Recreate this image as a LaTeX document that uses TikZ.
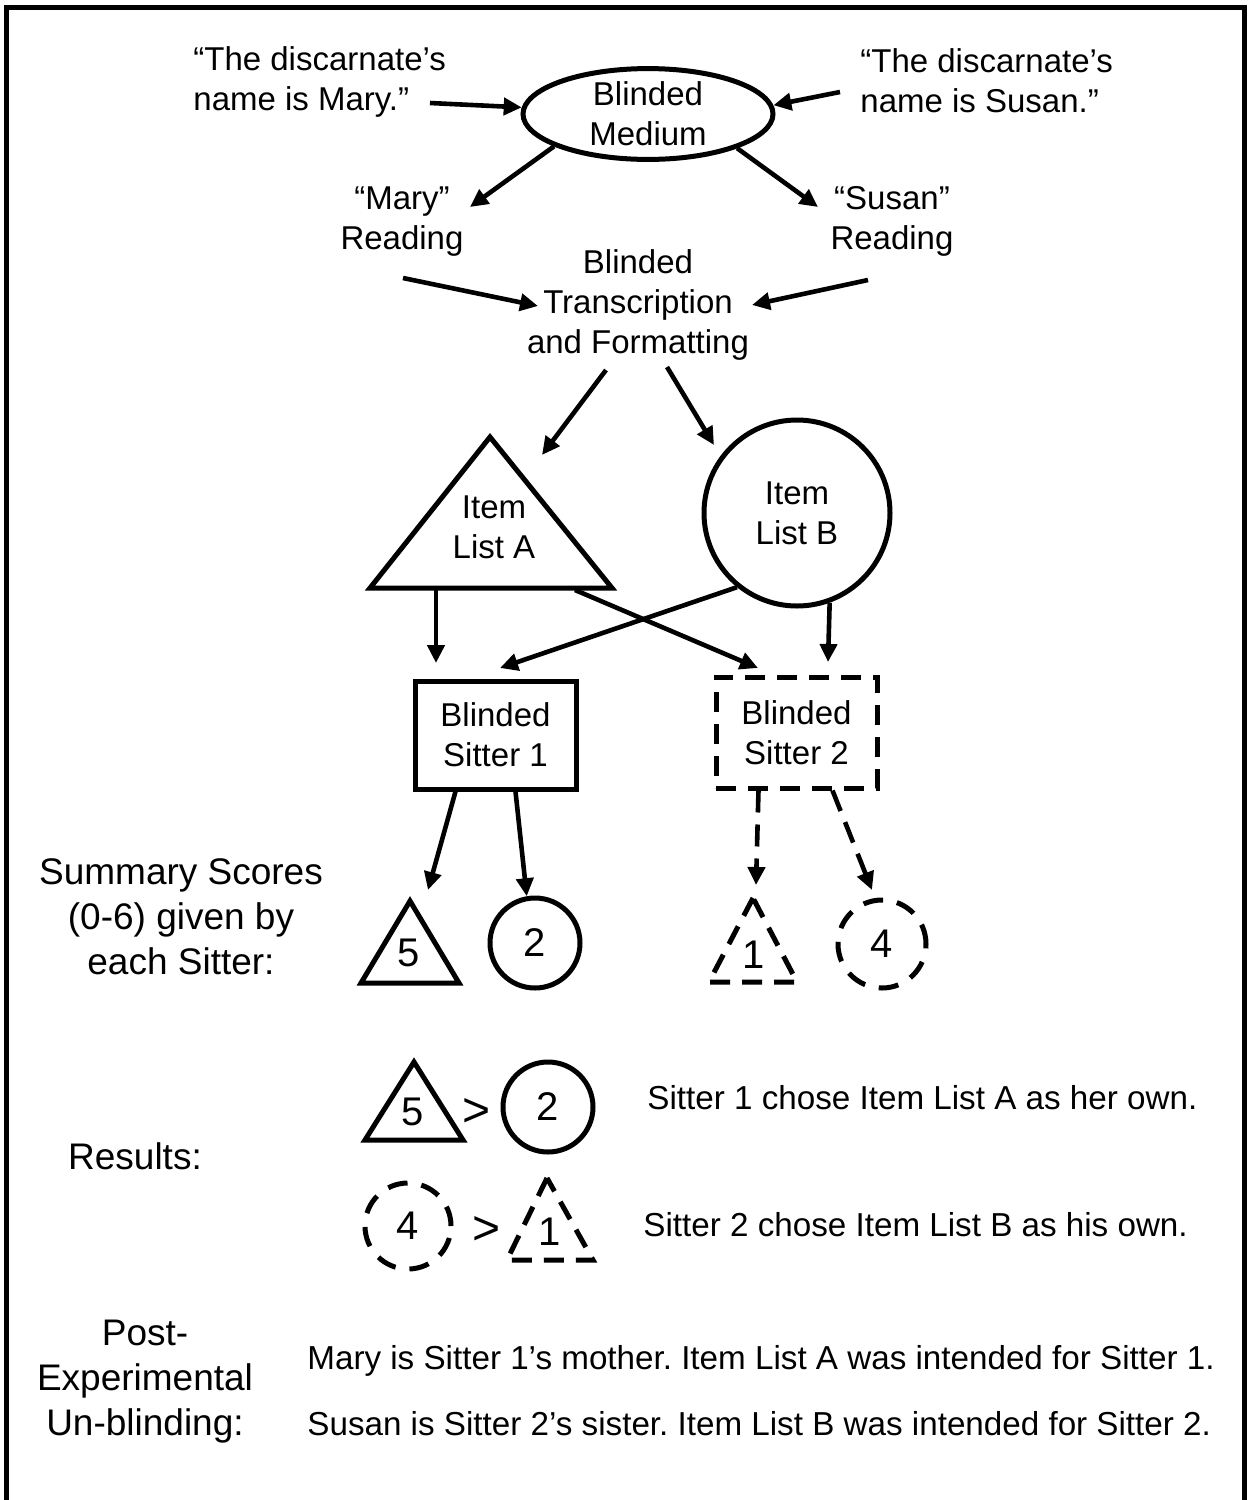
\documentclass[tikz,border=0pt]{standalone}
\usepackage{fontspec}
\setmainfont{Liberation Sans}
\usetikzlibrary{arrows.meta,shapes.geometric,calc}
\frenchspacing
\begin{document}
\begin{tikzpicture}[x=0.5pt,y=-0.5pt,
  lbl/.style={align=center,inner sep=0pt,font=\fontsize{16.5}{20}\selectfont},
  sent/.style={inner sep=0pt,font=\fontsize{16.6}{20}\selectfont},
  big/.style={align=center,inner sep=0pt,font=\fontsize{18.5}{22.5}\selectfont},
  num/.style={inner sep=0pt,font=\fontsize{20}{24}\selectfont},
  gt/.style={inner sep=0pt,font=\fontsize{24}{28}\selectfont},
  arr/.style={line width=2.3pt,-{Triangle[length=9pt,width=8.5pt]}},
  darr/.style={arr,dash pattern=on 11pt off 6pt},
  shp/.style={line width=2.5pt},
  dshp/.style={line width=2.5pt,dash pattern=on 10pt off 6pt},
  dcirc/.style={line width=2.5pt,dash pattern=on 10pt off 7pt},
]
\useasboundingbox (0,0) rectangle (1251,1500);
\draw[line width=2.5pt] (6,7.5) rectangle (1244.5,1504);

% top
\node[lbl,align=left,anchor=west] (maryq) at (193,82) {“The discarnate’s\\name is Mary.”};
\node[lbl,align=left,anchor=west] (susanq) at (860,81) {“The discarnate’s\\name is Susan.”};
\node[lbl,shp,draw,ellipse,minimum width=125pt,minimum height=44pt] (medium) at (648,114) {Blinded\\Medium};
\node[lbl] (maryr) at (402,222) {“Mary”\\Reading};
\node[lbl] (susanr) at (892,221) {“Susan”\\Reading};
\node[lbl] (trans) at (638,305) {Blinded\\Transcription\\and Formatting};

\coordinate (mqe) at (430,103);
\coordinate (sqw) at (840,92);
\coordinate (mrn) at (470,207);
\coordinate (srn) at (818,207);
\coordinate (mrs) at (403,278);
\coordinate (srs) at (868,280);
\coordinate (trw) at (538,306);
\coordinate (tre) at (752,305);
\coordinate (trsl) at (606,370);
\coordinate (trsr) at (667,367);

\draw[arr] (mqe) -- (medium.177);
\draw[arr] (sqw) -- (medium.4);
\draw[arr] (medium.199) -- (mrn);
\draw[arr] (medium.339) -- (srn);
\draw[arr] (mrs) -- (trw);
\draw[arr] (srs) -- (tre);

% item lists
\coordinate (tAa) at (490,437);
\coordinate (tAl) at (370,588);
\coordinate (tAr) at (612,588);
\draw[shp,line join=miter] (tAa) -- (tAl) -- (tAr) -- cycle;
\node[lbl] (listA) at (494,527) {Item\\List A};
\node[lbl,shp,draw,circle,minimum size=93pt] (listB) at (797,513) {Item\\List B};

\coordinate (tAin) at (542,455);
\coordinate (lBin) at (714,445);
\draw[arr] (trsl) -- (tAin);
\draw[arr] (trsr) -- (lBin);

% sitters
\node[lbl,shp,draw,minimum width=80.5pt,minimum height=54pt] (s1) at (495.5,735) {Blinded\\Sitter 1};
\node[lbl,dshp,draw,minimum width=80.5pt,minimum height=55.5pt] (s2) at (796.5,732.5) {Blinded\\Sitter 2};

\coordinate (tAb1) at (436,590);
\coordinate (tAb2) at (575,590);
\coordinate (s1in1) at (436,663);
\coordinate (s1in2) at (500,668);
\coordinate (s2in1) at (758,668);
\coordinate (s2in2) at (828,662);
\draw[arr] (tAb1) -- (s1in1);
\draw[arr] (listB.290) -- (s2in2);
\draw[arr] (listB.231) -- (s1in2);
\draw[arr] (tAb2) -- (s2in1);

% scores
\node[big] (summary) at (181,917) {Summary Scores\\(0-6) given by\\each Sitter:};

\draw[shp,line join=miter] (410,901) coordinate (t5a) -- (361,983) -- (459,983) -- cycle;
\node[num] (n5) at (409,953) {5};
\node[num,shp,draw,circle,minimum size=45pt] (c2) at (535,943) {2};
\draw[dshp] (753,898) coordinate (t1a) -- (709,982) -- (797,982) -- cycle;
\node[num] (n1) at (754,955) {1};
\node[num,dcirc,draw,circle,minimum size=44pt] (c4) at (882,944) {4};

\coordinate (t5in) at (428,890);
\coordinate (t1in) at (756,885);
\coordinate (c4in) at (872,890);
\draw[arr] ($(s1.south)+(-40,0)$) -- (t5in);
\draw[arr] ($(s1.south)+(20,0)$) -- (c2.100);
\draw[darr] ($(s2.south)+(-38,0)$) -- (t1in);
\draw[darr] ($(s2.south)+(36,0)$) -- (c4in);

% results
\node[big] (results) at (135,1156) {Results:};
\draw[shp,line join=miter] (414,1062) -- (365,1140) -- (463,1140) -- cycle;
\node[num] (r5) at (413,1112) {5};
\node[gt] (gt1) at (477,1112) {>};
\node[num,shp,draw,circle,minimum size=45pt] (r2) at (548,1107) {2};
\node[sent,anchor=west] (res1) at (647,1098) {Sitter 1 chose Item List A as her own.};

\node[num,dcirc,draw,circle,minimum size=43pt] (r4) at (408,1226) {4};
\node[gt] (gt2) at (487,1230) {>};
\draw[dshp] (547,1178) -- (507,1260) -- (593,1260) -- cycle;
\node[num] (r1) at (550,1232) {1};
\node[sent,anchor=west] (res2) at (643,1225) {Sitter 2 chose Item List B as his own.};

% unblinding
\node[big] (post) at (145,1382) {Post-\\Experimental\\Un-blinding:};
\node[sent,anchor=west] (ub1) at (307,1361) {Mary is Sitter 1’s mother. Item List A was intended for Sitter 1.};
\node[sent,anchor=west] (ub2) at (307,1424) {Susan is Sitter 2’s sister. Item List B was intended for Sitter 2.};
\end{tikzpicture}
\end{document}
